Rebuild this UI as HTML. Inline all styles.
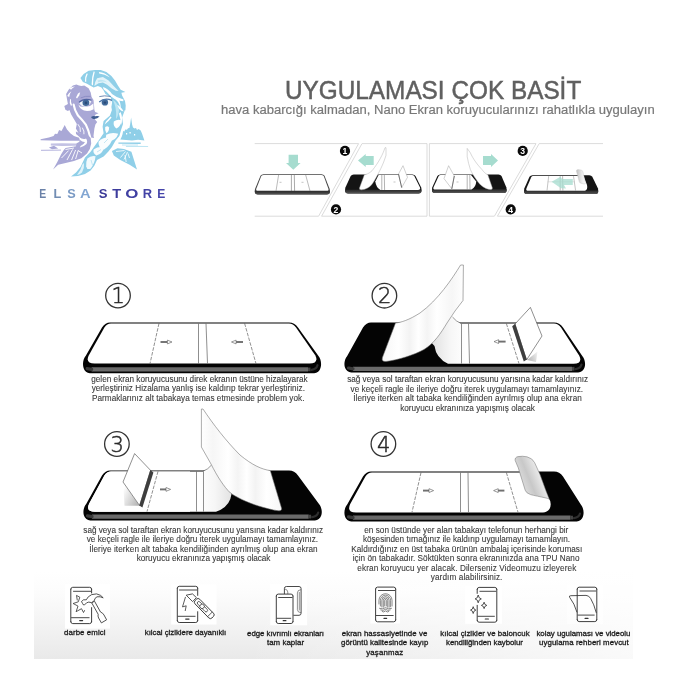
<!DOCTYPE html>
<html lang="tr">
<head>
<meta charset="utf-8">
<title>Uygulaması Çok Basit</title>
<style>
html,body{margin:0;padding:0;background:#fff;}
body{width:700px;height:700px;position:relative;overflow:hidden;font-family:"Liberation Sans",sans-serif;}
.abs{position:absolute;white-space:nowrap;}
#title{left:284.7px;top:71.8px;font-size:24.35px;color:#606060;line-height:34px;transform-origin:0 0;transform:scaleY(1.08);-webkit-text-stroke:0.45px #606060;}
#sub{left:220.6px;top:102px;font-size:13.05px;color:#787878;line-height:16px;-webkit-text-stroke:0.2px #787878;}
#strip{position:absolute;left:34px;top:572px;width:598.5px;height:87px;background:linear-gradient(to right,rgba(255,255,255,0) 0%,rgba(255,255,255,0) 35%,rgba(255,255,255,0.75) 100%),linear-gradient(to bottom,#ffffff 0%,#fcfcfc 25%,#f4f4f4 58%,#e9e9e9 100%);}
svg{position:absolute;left:0;top:0;font-family:"Liberation Sans",sans-serif;will-change:transform;}
#title,#sub{will-change:transform;}
.cap{font-size:8.2px;fill:#3a3a3a;stroke:#3a3a3a;stroke-width:0.1px;}
.feat{font-size:7.85px;fill:#1a1a1a;stroke:#1a1a1a;stroke-width:0.3px;}
</style>
</head>
<body>
<div id="strip"></div>
<svg id="art" width="700" height="700" viewBox="0 0 700 700">
<g id="step1">
<path d="M110,322.4 L289,322.4 Q294.5,322.4 298,327.4 L318.3,355.8 C321.5,359.8 322.0,365.8 319.5,370.2 C318.0,372.7 315.0,373.2 312.0,373.2 L92.1,373.2 C89.1,373.2 86.1,372.7 84.6,370.2 C82.1,365.8 82.6,359.8 85.8,355.8 L102,327.4 Q105.5,322.4 110,322.4 Z" fill="#040404"/>
<path d="M111,323.4 L289,323.4 Q293,323.4 296,327.4 L315.4,355.5 Q319.0,363.6 309.5,363.6 L94.6,363.6 Q85.1,363.6 88.69999999999999,355.5 L104.4,327.4 Q107,323.4 111,323.4 Z" fill="#fff"/>
<path d="M91.6,369.4 L308.0,369.4" stroke="#6a6a6a" stroke-width="4.3" stroke-linecap="butt" fill="none"/>
<path d="M91.6,369.4 L87.1,368.59999999999997" stroke="#3a3a3a" stroke-width="3.2" stroke-linecap="round" fill="none"/>
<path d="M308.0,369.4 L310.5,369.3" stroke="#444" stroke-width="3.8" fill="none"/>
<path d="M311.5,369.8 Q316.5,369.2 317.5,365.2" stroke="#2e2e2e" stroke-width="2.2" fill="none" stroke-linecap="round"/>
<path d="M198.5,323.4 L198.5,363.6 M206,323.4 L207.5,363.6" stroke="#6a6a6a" stroke-width="0.75" fill="none"/>
<path d="M159,323.4 L150,363.6 M244.6,323.4 L256,363.6" stroke="#555" stroke-width="0.65" stroke-dasharray="3.6 1.3" fill="none"/>
<rect x="160.5" y="341.05" width="7.30" height="1.9" fill="#707070"/><path d="M167.4,340.1 L172,342 L167.4,343.9 Z" fill="#fff" stroke="#555" stroke-width="0.6" stroke-linejoin="round"/>
<rect x="235.70" y="341.05" width="7.30" height="1.9" fill="#707070"/><path d="M236.1,340.1 L231.5,342 L236.1,343.9 Z" fill="#fff" stroke="#555" stroke-width="0.6" stroke-linejoin="round"/>
<circle cx="118" cy="295.6" r="12.3" fill="none" stroke="#333" stroke-width="1.3"/><text x="118.3" y="303.3" font-family="DejaVu Sans, sans-serif" font-weight="200" font-size="21" text-anchor="middle" fill="#2a2a2a" stroke="#2a2a2a" stroke-width="0.5">1</text>
</g>
<defs><linearGradient id="gf2" gradientUnits="userSpaceOnUse" x1="384" y1="0" x2="464" y2="0"><stop offset="0" stop-color="#f7f7f7"/><stop offset="0.18" stop-color="#ffffff"/><stop offset="0.32" stop-color="#f3f3f3"/><stop offset="0.43" stop-color="#ffffff"/><stop offset="0.54" stop-color="#f4f4f4"/><stop offset="0.66" stop-color="#ffffff"/><stop offset="0.85" stop-color="#f6f6f6"/><stop offset="1" stop-color="#ffffff"/></linearGradient><linearGradient id="gc2" gradientUnits="userSpaceOnUse" x1="434" y1="0" x2="466" y2="0"><stop offset="0" stop-color="#e3e3e3"/><stop offset="0.5" stop-color="#f6f6f6"/><stop offset="1" stop-color="#ffffff"/></linearGradient><linearGradient id="gf3" gradientUnits="userSpaceOnUse" x1="281" y1="0" x2="201" y2="0"><stop offset="0" stop-color="#f7f7f7"/><stop offset="0.18" stop-color="#ffffff"/><stop offset="0.32" stop-color="#f3f3f3"/><stop offset="0.43" stop-color="#ffffff"/><stop offset="0.54" stop-color="#f4f4f4"/><stop offset="0.66" stop-color="#ffffff"/><stop offset="0.85" stop-color="#f6f6f6"/><stop offset="1" stop-color="#ffffff"/></linearGradient><linearGradient id="gc3" gradientUnits="userSpaceOnUse" x1="231" y1="0" x2="199" y2="0"><stop offset="0" stop-color="#e3e3e3"/><stop offset="0.5" stop-color="#f6f6f6"/><stop offset="1" stop-color="#ffffff"/></linearGradient><linearGradient id="gcurl" gradientUnits="userSpaceOnUse" x1="518" y1="482" x2="545" y2="471"><stop offset="0" stop-color="#e2e2e2"/><stop offset="0.4" stop-color="#c8c8c8"/><stop offset="0.75" stop-color="#e6e6e6"/><stop offset="1" stop-color="#fbfbfb"/></linearGradient><linearGradient id="gsh" gradientUnits="userSpaceOnUse" x1="140" y1="500" x2="122" y2="492"><stop offset="0" stop-color="#b5b5b5"/><stop offset="1" stop-color="#ffffff"/></linearGradient><linearGradient id="gsh2" gradientUnits="userSpaceOnUse" x1="527" y1="358" x2="540" y2="352"><stop offset="0" stop-color="#b5b5b5"/><stop offset="1" stop-color="#ffffff"/></linearGradient></defs>
<g id="step2">
<path d="M371,322.6 L554,322.6 Q559.5,322.6 563,327.6 L582.3,356 C585.5,360 586.0,366 583.5,369.6 C582.0,372.1 579.0,372.6 576.0,372.6 L353.5,372.6 C350.5,372.6 347.5,372.1 346,369.6 C343.5,366 344,360 347.2,356 L363,327.6 Q366.5,322.6 371,322.6 Z" fill="#040404"/>
<path d="M353,368.8 L572.0,368.8" stroke="#6a6a6a" stroke-width="4.3" stroke-linecap="butt" fill="none"/>
<path d="M353,368.8 L348.5,368.0" stroke="#3a3a3a" stroke-width="3.2" stroke-linecap="round" fill="none"/>
<path d="M572.0,368.8 L574.5,368.70000000000005" stroke="#444" stroke-width="3.8" fill="none"/>
<path d="M575.5,369.20000000000005 Q580.5,368.6 581.5,364.6" stroke="#2e2e2e" stroke-width="2.2" fill="none" stroke-linecap="round"/>
<path d="M452.5,317 Q456,321.5 461,323.6 L554,323.6 Q558,323.6 561,327.6 L579.3,355.7 Q583,363.8 573.5,363.8 L448,363.8 Q436,358 434.5,346 L429,340 L446,315 Z" fill="url(#gc2)"/>
<path d="M452.5,317 Q456,321.5 461,323.4" stroke="#555" stroke-width="0.6" fill="none"/>
<path d="M461.5,323.6 L461.5,363.6 M468.5,323.6 L469.5,363.6" stroke="#6a6a6a" stroke-width="0.75" fill="none"/>
<path d="M506.4,323.6 L519,363.6" stroke="#555" stroke-width="0.65" stroke-dasharray="3.6 1.3" fill="none"/>
<rect x="498.20" y="340.65000000000003" width="7.40" height="1.9" fill="#707070"/><path d="M498.6,339.70000000000005 L494,341.6 L498.6,343.5 Z" fill="#fff" stroke="#555" stroke-width="0.6" stroke-linejoin="round"/>
<path d="M527,360 L537.5,351.5 L536,362 Z" fill="url(#gsh2)"/>
<path d="M515,324 L530.4,307.4 L542,336 L526.5,360 Z" fill="#fff" stroke="#444" stroke-width="0.6" stroke-linejoin="round"/>
<path d="M512.2,326.2 L515.2,323.8 L526.8,359.6 L523.8,361.6 Z" fill="#3e3e3e"/>
<path d="M460.6,265 C452,279 438,300 420,313 C409,320 401,322.5 395.5,323 L382.4,357.6 Q381.2,361.8 386,361.5 C398,360 414,355 424,349.5 C434,343.5 441,333 447,323 L455,311 L463,300.5 L463.4,265 Z" fill="url(#gf2)" stroke="#666" stroke-width="0.55" stroke-linejoin="round"/>
<circle cx="384.4" cy="295.7" r="12.3" fill="none" stroke="#333" stroke-width="1.3"/><text x="384.7" y="303.4" font-family="DejaVu Sans, sans-serif" font-weight="200" font-size="21" text-anchor="middle" fill="#2a2a2a" stroke="#2a2a2a" stroke-width="0.5">2</text>
</g>
<g id="step3">
<path d="M110,470.4 L289,470.4 Q294.5,470.4 298,475.4 L319.0,504 C322.2,508 322.7,514 320.2,517.5 C318.7,520.0 315.7,520.5 312.7,520.5 L92.5,520.5 C89.5,520.5 86.5,520.0 85,517.5 C82.5,514 83,508 86.2,504 L102,475.4 Q105.5,470.4 110,470.4 Z" fill="#040404"/>
<path d="M92,516.7 L308.7,516.7" stroke="#6a6a6a" stroke-width="4.3" stroke-linecap="butt" fill="none"/>
<path d="M92,516.7 L87.5,515.9" stroke="#3a3a3a" stroke-width="3.2" stroke-linecap="round" fill="none"/>
<path d="M308.7,516.7 L311.2,516.6" stroke="#444" stroke-width="3.8" fill="none"/>
<path d="M312.2,517.1 Q317.2,516.5 318.2,512.5" stroke="#2e2e2e" stroke-width="2.2" fill="none" stroke-linecap="round"/>
<path d="M111,471.4 L203,471.4 Q208,469.5 211.5,465 L231.5,494 Q230,507 216,511.8 L95,511.8 Q85.5,511.8 89.1,503.7 L104.4,475.4 Q107,471.4 111,471.4 Z" fill="url(#gc3)"/>
<path d="M111,471.4 L190,471.4 L190,511.8 L95,511.8 Q85.5,511.8 89.1,503.7 L104.4,475.4 Q107,471.4 111,471.4 Z" fill="#fff"/>
<path d="M203,471.2 Q208,469.5 211.5,465" stroke="#555" stroke-width="0.6" fill="none"/>
<path d="M196.5,471.4 L196.5,511.6 M203.5,471.4 L203.5,511.6" stroke="#6a6a6a" stroke-width="0.75" fill="none"/>
<path d="M158,471.4 L147,511.6" stroke="#555" stroke-width="0.65" stroke-dasharray="3.6 1.3" fill="none"/>
<rect x="160" y="488.45" width="6.40" height="1.9" fill="#707070"/><path d="M166.0,487.5 L170.6,489.4 L166.0,491.29999999999995 Z" fill="#fff" stroke="#555" stroke-width="0.6" stroke-linejoin="round"/>
<path d="M123.2,483 L139.5,505.8 L124.5,505.8 Z" fill="url(#gsh)"/>
<path d="M134.6,453.6 L150.6,470.4 L139.6,505.6 L123,482 Z" fill="#fff" stroke="#444" stroke-width="0.6" stroke-linejoin="round"/>
<path d="M150.3,470.1 L153.4,472.4 L142.4,507.4 L139.3,505.4 Z" fill="#3e3e3e"/>
<path d="M201.4,409 L201.4,447 L211,464 C217,476 224,487 230.5,493 C236,497 247,502.5 258.5,506 C266,508.3 272,509.8 277,510.6 Q282.6,511.6 281.5,508 L270.3,470.6 C262,469.5 252,465 240,455 C226,441 213,424 203,409 Z" fill="url(#gf3)" stroke="#666" stroke-width="0.55" stroke-linejoin="round"/>
<circle cx="116.9" cy="444" r="12.3" fill="none" stroke="#333" stroke-width="1.3"/><text x="117.2" y="451.7" font-family="DejaVu Sans, sans-serif" font-weight="200" font-size="21" text-anchor="middle" fill="#2a2a2a" stroke="#2a2a2a" stroke-width="0.5">3</text>
</g>
<g id="step4">
<path d="M371,471.6 L554,471.6 Q559.5,471.6 563,476.6 L580.8,504.6 C584,508.6 584.5,514.6 582,518.5 C580.5,521.0 577.5,521.5 574.5,521.5 L353.5,521.5 C350.5,521.5 347.5,521.0 346,518.5 C343.5,514.6 344,508.6 347.2,504.6 L363,476.6 Q366.5,471.6 371,471.6 Z" fill="#040404"/>
<path d="M353,517.7 L570.5,517.7" stroke="#6a6a6a" stroke-width="4.3" stroke-linecap="butt" fill="none"/>
<path d="M353,517.7 L348.5,516.9" stroke="#3a3a3a" stroke-width="3.2" stroke-linecap="round" fill="none"/>
<path d="M570.5,517.7 L573,517.6" stroke="#444" stroke-width="3.8" fill="none"/>
<path d="M574,518.1 Q579,517.5 580,513.5" stroke="#2e2e2e" stroke-width="2.2" fill="none" stroke-linecap="round"/>
<path d="M372,472.6 L538,472.6 L548,497 Q552.5,503 549.5,509 Q547,512.4 543,512.4 L356,512.4 Q346.5,512.4 350.1,504.3 L365.4,476.6 Q368,472.6 372,472.6 Z" fill="#fff"/>
<path d="M460.5,472.6 L460.5,512.2 M468,472.6 L468.5,512.2" stroke="#6a6a6a" stroke-width="0.75" fill="none"/>
<path d="M421,472.6 L412,512.2 M506.4,472.6 L518,512.2" stroke="#555" stroke-width="0.65" stroke-dasharray="3.6 1.3" fill="none"/>
<rect x="423" y="489.65000000000003" width="6.40" height="1.9" fill="#707070"/><path d="M429.0,488.70000000000005 L433.6,490.6 L429.0,492.5 Z" fill="#fff" stroke="#555" stroke-width="0.6" stroke-linejoin="round"/>
<rect x="497.80" y="489.65000000000003" width="6.60" height="1.9" fill="#707070"/><path d="M498.20000000000005,488.70000000000005 L493.6,490.6 L498.20000000000005,492.5 Z" fill="#fff" stroke="#555" stroke-width="0.6" stroke-linejoin="round"/>
<path d="M515.2,460.5 Q514.6,457.4 518,456.6 Q522.5,455.8 527,456.8 Q532.5,458.2 534.6,462.6 L540,474.5 L546,491 Q548.6,497.6 549.2,499 Q548,498.4 546,498 C540,496.6 534,495.6 530.5,494.6 Q526.2,493.2 525.2,490.2 L518.3,467.9 Z" fill="url(#gcurl)" stroke="#777" stroke-width="0.55" stroke-linejoin="round"/>
<circle cx="383.4" cy="444" r="12.3" fill="none" stroke="#333" stroke-width="1.3"/><text x="383.7" y="451.7" font-family="DejaVu Sans, sans-serif" font-weight="200" font-size="21" text-anchor="middle" fill="#2a2a2a" stroke="#2a2a2a" stroke-width="0.5">4</text>
</g>
<g id="mini">
<defs><linearGradient id="gmc" gradientUnits="userSpaceOnUse" x1="576" y1="0" x2="586" y2="0"><stop offset="0" stop-color="#bdbdbd"/><stop offset="0.6" stop-color="#ececec"/><stop offset="1" stop-color="#ffffff"/></linearGradient><linearGradient id="gmb" x1="0" y1="0" x2="0" y2="1"><stop offset="0" stop-color="#2a2a2a"/><stop offset="0.5" stop-color="#3c3c3c"/><stop offset="1" stop-color="#5a5a5a"/></linearGradient></defs>
<path d="M254.7,143.6 L358.6,143.6 L318.6,216.2 L254.7,216.2" fill="none" stroke="#d2d2d2" stroke-width="0.8"/>
<path d="M321.6,216.2 L362,143.6 L427,143.6 L427,216.2 Z" fill="none" stroke="#d2d2d2" stroke-width="0.8"/>
<path d="M429.4,216.2 L429.4,143.6 L536,143.6 L494.4,216.2 Z" fill="none" stroke="#d2d2d2" stroke-width="0.8"/>
<path d="M603,143.6 L539.2,143.6 L497.4,216.2 L603,216.2" fill="none" stroke="#d2d2d2" stroke-width="0.8"/>
<path d="M263.5,174.3 L321.5,174.3 Q323.5,174.3 324.5,175.8 L329.7,188.9 Q330.8,194.4 327,194.4 L257.7,194.4 Q253.89999999999998,194.4 255.0,188.9 L260.5,175.8 Q261.5,174.3 263.5,174.3 Z" fill="#444"/>
<path d="M263.7,175.0 L321.3,175.0 Q322.8,175.0 323.7,176.10000000000002 L328.4,188.8 Q329.2,191.1 326.5,191.1 L258.2,191.1 Q255.5,191.1 256.3,188.8 L261.3,176.10000000000002 Q262.2,175.0 263.7,175.0 Z" fill="#fff"/>
<path d="M254.89999999999998,190.8 L329.8,190.8 Q330.6,194.4 327,194.4 L257.7,194.4 Q254.1,194.4 254.89999999999998,190.8 Z" fill="url(#gmb)"/>
<path d="M278.6,175 L276,191 M305.7,175 L310,191" stroke="#777" stroke-width="0.5" fill="none"/>
<path d="M291.4,175 L291.4,191 M294.3,175 L294.6,191" stroke="#555" stroke-width="0.5" fill="none"/>
<path d="M279.5,182.3 h2 M301.5,182.3 h2" stroke="#888" stroke-width="0.5"/>
<path d="M288.6,154.7 L298,154.7 L298,163 L300.6,163 L293.3,169.8 L286,163 L288.6,163 Z" fill="#a6dccf"/>
<circle cx="345" cy="150.9" r="5.1" fill="#0a0a0a"/><text x="345" y="154.0" font-size="8.6" font-weight="bold" text-anchor="middle" fill="#fff">1</text>
<circle cx="336" cy="209.4" r="5.1" fill="#0a0a0a"/><text x="336" y="212.5" font-size="8.6" font-weight="bold" text-anchor="middle" fill="#fff">2</text>
<path d="M353.7,174.4 L412.5,174.4 Q414.5,174.4 415.5,175.9 L421.3,187.8 Q422.40000000000003,193.4 418.6,193.4 L348,193.4 Q344.2,193.4 345.3,187.8 L350.7,175.9 Q351.7,174.4 353.7,174.4 Z" fill="#141414"/>
<path d="M345.2,189.70000000000002 L421.40000000000003,189.70000000000002 Q422.20000000000005,193.4 418.6,193.4 L348,193.4 Q344.4,193.4 345.2,189.70000000000002 Z" fill="url(#gmb)"/>
<path d="M378.6,175.1 L412,175.1 Q413.6,175.1 414.5,176.4 L420,187.6 Q420.8,190 418,190 L380.5,190 Q376,187.5 375.3,181.5 Z" fill="#fff"/>
<path d="M381.8,175 L381.8,190 M384.3,175 L384.6,190" stroke="#666" stroke-width="0.5" fill="none"/>
<path d="M393.5,182 h2" stroke="#888" stroke-width="0.5"/>
<path d="M398.5,174 L403,165.7 L407.5,177.3 L401.7,187.6 Z" fill="#fff" stroke="#999" stroke-width="0.45" stroke-linejoin="round"/>
<path d="M398.5,174 L401.7,187.6" stroke="#666" stroke-width="0.9"/>
<path d="M358,160.6 L365.7,153.9 L365.7,156 L373.7,156 L373.7,165 L365.7,165 L365.7,167 Z" fill="#a6dccf"/>
<path d="M385,147.7 C383,154 379,162 372,170.8 C369,173.5 366.5,174.5 364.4,174.7 L359.5,188 Q359,190 361.5,189.8 C366,189.5 369.5,187.5 372,184.3 C375,180 380.5,170 383.7,162 L386,155.4 L386,147.7 Z" fill="#fff" stroke="#aaa" stroke-width="0.45" stroke-linejoin="round"/>
<path d="M440.4,174.4 L498.5,174.4 Q500.5,174.4 501.5,175.9 L506.4,187.4 Q507.5,193 503.7,193 L434.9,193 Q431.09999999999997,193 432.2,187.4 L437.4,175.9 Q438.4,174.4 440.4,174.4 Z" fill="#141414"/>
<path d="M432.09999999999997,189.3 L506.5,189.3 Q507.3,193 503.7,193 L434.9,193 Q431.29999999999995,193 432.09999999999997,189.3 Z" fill="url(#gmb)"/>
<path d="M440.6,175.1 L471,175.1 L476.2,181.5 Q476,187 471.5,189.6 L435.5,189.6 Q432.7,189.6 433.5,187.2 L438.5,176.4 Q439.3,175.1 440.6,175.1 Z" fill="#fff"/>
<path d="M467.2,175 L467.2,189.6 M469.8,175 L470,189.6" stroke="#666" stroke-width="0.5" fill="none"/>
<path d="M456.5,182 h2" stroke="#888" stroke-width="0.5"/>
<path d="M448.6,165.7 L454.3,176 L451.8,188.8 L444,178.6 Z" fill="#fff" stroke="#999" stroke-width="0.45" stroke-linejoin="round"/>
<path d="M454.3,176 L451.8,188.8" stroke="#666" stroke-width="0.9"/>
<path d="M498,160.6 L491,153.9 L491,156 L483,156 L483,165 L491,165 L491,167 Z" fill="#a6dccf"/>
<path d="M467.2,148.4 L467.2,156.7 C468,161 469,165.5 470.4,169.6 C472,173 474,176.5 475.6,178.6 C477.5,181.5 479,183.5 480.7,185 C484,188 488,189.5 490.5,189.6 Q492.8,189.8 492.3,187.8 L487.8,174.7 C485.5,174 483.5,171.5 482,169.6 C479.5,167 477.5,164.5 475.6,161.9 C473.5,159 471.5,155.5 470.4,152.9 Z" fill="#fff" stroke="#aaa" stroke-width="0.45" stroke-linejoin="round"/>
<circle cx="522.7" cy="150.9" r="5.1" fill="#0a0a0a"/><text x="522.7" y="154.0" font-size="8.6" font-weight="bold" text-anchor="middle" fill="#fff">3</text>
<circle cx="510.7" cy="209.4" r="5.1" fill="#0a0a0a"/><text x="510.7" y="212.5" font-size="8.6" font-weight="bold" text-anchor="middle" fill="#fff">4</text>
<path d="M532.5,175.3 L589.3,175.3 Q591.3,175.3 592.3,176.8 L598.0,188.5 Q599.0999999999999,194.1 595.3,194.1 L527,194.1 Q523.2,194.1 524.3,188.5 L529.5,176.8 Q530.5,175.3 532.5,175.3 Z" fill="#141414"/>
<path d="M524.2,190.4 L598.0999999999999,190.4 Q598.9,194.1 595.3,194.1 L527,194.1 Q523.4,194.1 524.2,190.4 Z" fill="url(#gmb)"/>
<path d="M533,176.1 L583.5,176.1 L587,185 Q588,189.5 585,190.7 L528.3,190.7 Q525.6,190.7 526.4,188.4 L531.2,177.3 Q531.8,176.1 533,176.1 Z" fill="#fff"/>
<path d="M548.7,176.1 L547,190.6 M573.5,176.1 L575.6,190.6" stroke="#888" stroke-width="0.5" fill="none"/>
<path d="M560.2,176.1 L560.2,190.6 M562.6,176.1 L562.9,190.6" stroke="#777" stroke-width="0.5" fill="none"/>
<path d="M547.6,181.8 L575,181.8" stroke="#bbb" stroke-width="0.4" fill="none"/>
<path d="M551.6,181.8 L560.5,176.8 L562,179 L572.8,179 L572.8,185 L564,185 L566,188.5 L561,188.2 Z" fill="#a6dccf" fill-opacity="0.75"/>
<path d="M576.5,171.2 Q576.2,169.6 578,169.6 L580.6,169.9 Q582.6,170.2 583,172 L585.4,182.6 Q585.8,184.2 584.2,184 L581,183.3 Q579.6,183 579.2,181.6 Z" fill="url(#gmc)" stroke="#bbb" stroke-width="0.35"/>
</g>
<g id="icons">
<rect x="65" y="584" width="45" height="44.6" fill="#ffffff"/>
<rect x="171.2" y="584.4" width="45.3" height="40.1" fill="#ffffff"/>
<rect x="270.3" y="583.7" width="36.8" height="41.6" fill="#ffffff"/>
<rect x="370.4" y="584.8" width="29.7" height="38.7" fill="#ffffff"/>
<rect x="465.2" y="586.3" width="36.8" height="37.5" fill="#ffffff"/>
<rect x="567" y="585" width="36" height="39" fill="#ffffff" fill-opacity="0.6"/>
<path d="M70.8,589.1999999999999 Q70.8,587.3 72.7,587.3 L89.69999999999999,587.3 Q91.6,587.3 91.6,589.1999999999999 M91.6,621.7 Q91.6,623.6 89.69999999999999,623.6 L72.7,623.6 Q70.8,623.6 70.8,621.7 M70.8,589.20 L70.8,621.70 M91.6,589.20 L91.6,593.00 M91.6,607.60 L91.6,621.70" fill="none" stroke="#343434" stroke-width="0.95" stroke-linecap="round"/>
<path d="M73.1,591.3 L91.1,591.3 M71.1,617.7 L89.5,617.7" fill="none" stroke="#343434" stroke-width="0.9"/>
<path d="M79.7,620.6 L82.6,620.6" stroke="#343434" stroke-width="1.2" stroke-linecap="round"/>
<path d="M76.5,595.4 L79.8,597.2 L78.3,601.8 L73.1,603.5 L78,606.1 L76.1,611.7 L81.5,608.7 L83.5,612.5 L84.7,610.2 M76.5,595.4 L77.3,600.4" fill="none" stroke="#343434" stroke-width="0.8" stroke-linejoin="miter"/>
<path d="M91.7,602.8 L94.5,601.2 L100.5,612 Q103,613 104,615 L106.6,619.8 L101.4,622.9 L98.6,618 Q97.6,616 98.2,614.3 Z" fill="#fff" stroke="#343434" stroke-width="0.85" stroke-linejoin="round"/>
<path d="M81.5,601.5 L83.5,599.8 L86.3,599.8 Q87.5,596.5 91.7,594.6 Q97,592.8 100.6,595.4 L103.2,597.8 Q100,596.2 97,596.8 Q94.5,598 94.2,600.8 L91.5,602.6 Q88.5,601.5 86.6,602.8 L84.4,605 Q82.5,604.8 82.6,603.6 Z" fill="#fff" stroke="#343434" stroke-width="0.85" stroke-linejoin="round"/>
<path d="M177.3,588.1999999999999 Q177.3,586.3 179.20000000000002,586.3 L195.79999999999998,586.3 Q197.7,586.3 197.7,588.1999999999999 M197.7,620.6 Q197.7,622.5 195.79999999999998,622.5 L179.20000000000002,622.5 Q177.3,622.5 177.3,620.6 M177.3,588.20 L177.3,620.60 M197.7,588.20 L197.7,595.40 M197.7,611.70 L197.7,620.60" fill="none" stroke="#343434" stroke-width="0.95" stroke-linecap="round"/>
<path d="M179.1,590 L197.2,590 M177.60000000000002,616.3 L195.5,616.3" fill="none" stroke="#343434" stroke-width="0.9"/>
<path d="M185.7,619.1 L189,619.1" stroke="#343434" stroke-width="1.2" stroke-linecap="round"/>
<path d="M185.5,596.9 L182.5,606.9 L186.2,605.8 L185.2,611" fill="none" stroke="#343434" stroke-width="0.8"/>
<path d="M186.2,595.2 L192.5,593.9 L196.4,597.6 L192.6,601.6 Z" fill="#fff" stroke="#343434" stroke-width="0.85" stroke-linejoin="round"/>
<g transform="translate(203.9,608.2) rotate(45.5)"><rect x="-11.6" y="-3.3" width="24.2" height="6.6" rx="2.3" fill="#fff" stroke="#343434" stroke-width="0.9"/><path d="M8.6,-3.3 L8.6,3.3" stroke="#343434" stroke-width="0.75"/><rect x="-8.8" y="-1.5" width="13.4" height="3" rx="1.5" fill="none" stroke="#343434" stroke-width="0.75"/><circle cx="-2.6" cy="0" r="2.25" fill="#fff" stroke="#343434" stroke-width="0.75"/></g>
<path d="M284.4,594 L284.4,588.5 Q284.4,586.5 286.4,586.5 L299,586.5 Q301.1,586.5 301.1,588.6 L301.1,613.2 Q301.1,615.3 299,615.3 L293.4,615.3" fill="none" stroke="#343434" stroke-width="0.9"/>
<path d="M300.9,589.7 Q297.4,590 297.4,592.8 L297.4,609.6 Q297.4,612.4 300.9,612.7 M299.3,592 L299.3,610.4 M284.6,588.9 Q287.6,589.4 287.8,592 L287.8,594" fill="none" stroke="#343434" stroke-width="0.55"/>
<path d="M276.3,596.0 Q276.3,594.1 278.2,594.1 L291.1,594.1 Q293,594.1 293,596.0 M293,621.6 Q293,623.5 291.1,623.5 L278.2,623.5 Q276.3,623.5 276.3,621.6 M276.3,596.00 L276.3,621.60 M293,596.00 L293,621.60" fill="none" stroke="#343434" stroke-width="0.95" stroke-linecap="round"/>
<path d="M278.2,597.5 L292.5,597.5 M276.6,618.3 L291.2,618.3" fill="none" stroke="#343434" stroke-width="0.9"/>
<path d="M283.2,620.7 L285.9,620.7" stroke="#343434" stroke-width="1.2" stroke-linecap="round"/>
<path d="M375.6,589.0 Q375.6,587.1 377.5,587.1 L393.8,587.1 Q395.7,587.1 395.7,589.0 M395.7,619.9 Q395.7,621.8 393.8,621.8 L377.5,621.8 Q375.6,621.8 375.6,619.9 M375.6,589.00 L375.6,619.90 M395.7,589.00 L395.7,619.90" fill="none" stroke="#343434" stroke-width="0.95" stroke-linecap="round"/>
<path d="M378,590.5 L395.2,590.5 M375.90000000000003,615.5 L393.6,615.5" fill="none" stroke="#343434" stroke-width="0.9"/>
<path d="M384,618.4 L386.6,618.4" stroke="#343434" stroke-width="1.2" stroke-linecap="round"/>
<path d="M384.70,606.00 L384.70,600.40 A0.80,0.95 0 0 1 386.30,600.40 L386.30,606.00 M383.30,607.20 L383.30,600.40 A2.20,2.35 0 0 1 387.70,600.40 L387.70,607.20 M381.85,607.00 L381.85,600.40 A3.65,3.80 0 0 1 389.15,600.40 L389.15,607.20 M380.40,606.00 L380.40,600.40 A5.10,5.25 0 0 1 390.60,600.40 L390.60,606.80 M378.95,604.00 L378.95,600.40 A6.55,6.70 0 0 1 392.05,600.40 L392.05,606.00 M379.50,608.40 Q382.50,609.60 385.50,607.70 Q388.50,609.60 391.50,608.40 M380.70,610.00 Q383.10,611.20 385.50,609.30 Q387.90,611.20 390.30,610.00 M382.20,611.60 Q383.85,612.80 385.50,610.90 Q387.15,612.80 388.80,611.60" fill="none" stroke="#3a3a3a" stroke-width="0.6" stroke-linecap="round"/>
<path d="M477.2,589.3 Q477.2,587.4 479.09999999999997,587.4 L494.90000000000003,587.4 Q496.8,587.4 496.8,589.3 M496.8,620.3000000000001 Q496.8,622.2 494.90000000000003,622.2 L479.09999999999997,622.2 Q477.2,622.2 477.2,620.3000000000001 M477.2,589.30 L477.2,593.40 M477.2,605.30 L477.2,620.30 M496.8,589.30 L496.8,620.30" fill="none" stroke="#343434" stroke-width="0.95" stroke-linecap="round"/>
<path d="M479.5,591.3 L496.3,591.3 M477.5,616.3 L494.8,616.3" fill="none" stroke="#343434" stroke-width="0.9"/>
<path d="M485.3,619 L488.4,619" stroke="#343434" stroke-width="1.2" stroke-linecap="round"/>
<path d="M478.2,595.0 Q478.572,598.432 481.3,598.9 Q478.572,599.3679999999999 478.2,602.8 Q477.828,599.3679999999999 475.09999999999997,598.9 Q477.828,598.432 478.2,595.0 Z M484.1,602.1999999999999 Q484.42400000000004,605.016 486.8,605.4 Q484.42400000000004,605.784 484.1,608.6 Q483.776,605.784 481.40000000000003,605.4 Q483.776,605.016 484.1,602.1999999999999 Z M473.2,606.7 Q473.524,609.692 475.9,610.1 Q473.524,610.508 473.2,613.5 Q472.876,610.508 470.5,610.1 Q472.876,609.692 473.2,606.7 Z" fill="#fff" stroke="#343434" stroke-width="0.85" stroke-linejoin="miter"/>
<path d="M577.2,589.1 Q577.2,587.2 579.1,587.2 L594.9,587.2 Q596.8,587.2 596.8,589.1 M596.8,619.7 Q596.8,621.6 594.9,621.6 L579.1,621.6 Q577.2,621.6 577.2,619.7 M577.2,589.10 L577.2,619.70 M596.8,589.10 L596.8,619.70" fill="none" stroke="#343434" stroke-width="0.95" stroke-linecap="round"/>
<path d="M579.5,591 L596.3,591 M577.5,615.1 L594.6,615.1" fill="none" stroke="#343434" stroke-width="0.9"/>
<path d="M585.1,618.4 L588,618.4" stroke="#343434" stroke-width="1.2" stroke-linecap="round"/>
<path d="M576.9,612 Q574.5,603.5 569.6,597.2 Q568.8,595.7 570.8,595.7 L586,595.4 Q588.8,595.4 590.6,598.4 Q594,604 596.2,612.5" fill="none" stroke="#343434" stroke-width="0.85" stroke-linecap="round"/>
</g>
<g id="logo">
<path d="M72.9,85.4 L76.4,84.4 L79,85.6 L81.4,86.1 L84.3,85.4 L88.6,88.3 L90.7,92.6 L91.6,97 L93.5,100 L94,105 L94.4,110 L95.2,112 L98.6,113.3 L95.6,114.6 L94.6,116 L95,119.5 L97.2,122 L95.4,124.5 L94.4,128.6 L93.5,136 L94,137.9 L91,137.4 L88,135.6 L84,135 L78.6,133.2 L75.9,128.6 L76.8,123.9 L74,119.3 L71.2,114.6 L69.4,110 L67.9,111.1 L65.4,109.7 L64.3,106.1 L67.9,104 L67.1,99.7 L66.1,94 L68.6,89.7 Z" fill="#a9a8d6"/>
<path d="M73.6,104.5 Q74.5,110 78,115.6 Q82.5,120.2 86,124.9 Q88.8,130.4 90.2,137.2" fill="none" stroke="#fff" stroke-width="2.1" stroke-linecap="round"/>
<path d="M78.2,124.5 Q81,127.5 80.4,131.5 M82.5,128 Q84.6,131 84,134" fill="none" stroke="#fff" stroke-width="0.9" stroke-linecap="round"/>
<path d="M75.9,131.4 L80,133.5 L84,134.5 L88,135 L90.7,137.9 L91.2,143.4 L89.8,149 L87,153.6 L81.4,158.3 L74,161.1 L65.6,162.9 L58.2,164.8 L53.1,169.4 L57.3,162 L61,154.6 L63.8,149.9 L65.6,148.1 L70,147.2 L76,146.2 L76.2,143.6 L79,142 L81,139 L79,136.5 L76,134 Z" fill="#a9a8d6"/>
<path d="M40.6,139.2 L48.9,137.4 L53.6,136 L55,133.7 L57.3,134.1 L59.1,130 L61.5,130.9 L64.7,124.9 L67,129.5 L70.3,133.2 L74,136 L76.8,136.9 L80,138 L80,140.8 L60,140.8 L40.6,140.2 Z" fill="#a9a8d6"/>
<path d="M50.8,143.6 L62,143.3 L76,143.6 L76,145.8 L62,146 L50.8,145.6 Z" fill="#c3c2e4"/>
<path d="M48.9,147.6 L54,145.8 L58.2,148.6 L52,149.2 Z" fill="#a9a8d6"/>
<path d="M41,149.7 L61,149.4 L61,150.8 L41,151.1 Z" fill="#c3c2e4"/>
<path d="M76,97.5 L78,93.5 L80.2,92.3 L79.2,95.5 L77,98.6 Z" fill="#fff"/>
<path d="M78.4,104.6 L80.5,106.4 L84.6,107 L90,106 L93.4,103.5 L93.6,109.2 Q88.5,112 84,110.6 Q79.8,109 78.4,104.6 Z" fill="#fff"/>
<path d="M67.2,96 Q68.6,92.6 71.4,91.2 Q69.6,93.6 69.2,97 Z M69.6,88.6 Q72,86.6 75,86.6 Q72.4,87.8 71,89.8 Z" fill="#fff"/>
<path d="M70,99 Q69,103 71,106 L72,105 Q70.6,102.5 71,99.5 Z" fill="#fff"/>
<path d="M79,137 Q83,140 86,138.5 Q88,141 86.5,144 Q84,146.5 80,147.5 L80.5,146 Q84,144.5 85,142 Q83,142.5 79.5,139.5 Z" fill="#fff"/>
<path d="M65.5,149.5 L74,148 M67,160 L72.6,149.4 M71.6,160 L75.6,150 M75.6,159 L78.2,150.4 M61.5,158 L68.6,150.6 M78,150.5 L82,153" stroke="#fff" stroke-width="0.9" fill="none"/>
<path d="M79,102.8 Q84,98 91.4,100.6 Q90.4,106 84.6,106.8 Q80.8,106.2 79,102.8 Z" fill="#f1f5fb"/>
<ellipse cx="85.9" cy="102.7" rx="3.4" ry="3.3" fill="#3f6898"/>
<circle cx="85.9" cy="102.9" r="1.3" fill="#2a4a78"/>
<path d="M79,102.4 Q84,97.6 91.6,100.2" stroke="#4f63a0" stroke-width="1.2" fill="none"/>
<path d="M80.7,97.9 Q85,95.7 90.7,96.3" stroke="#8586c0" stroke-width="0.8" fill="none"/>
<path d="M80.4,77.9 L83.6,74 L88.6,70.8 L95,70.1 L100.7,70.1 L106.4,71.9 L111.4,76.1 L115,80.4 L117.9,85.4 L120.7,89.7 L125.4,91.9 L121.4,92.8 L122.1,95.4 L125,101.1 L125.7,105.4 L125.4,110.4 L124.9,110 L122.1,117.4 L123,123.9 L121.2,129.5 L119.4,136 L115.6,140.6 L111.9,147.1 L108.2,151.8 L103.6,156.4 L97,160.1 L94.3,165.7 L90.6,170.4 L85,174 L78,176 L71,176.4 L76,172.5 L80.5,167 L85,157.4 L90.6,151.8 L95.2,145.3 L99.9,138.8 L103.6,133.2 L102.6,126.7 L103.6,121.1 L110,115.6 L111.9,110 L111.4,106.9 L112.1,102.6 L110.7,97.6 L107.9,95.4 L105.4,94 L103.6,90.4 L101.4,87.6 L97.9,86.1 L93.6,87.6 L90,85.4 L86.5,83.5 L82.9,81.9 Z" fill="#8fcfe8"/>
<path d="M93.6,71.6 L92.2,77 L91.6,84.6 L93,85.4 L93.4,78 L94.8,71.8 Z" fill="#fff"/>
<path d="M94.3,86.1 L98.6,83.3 L102.9,82.6 L107.1,84.7 L111.4,88.3 L115.7,90.8 L118.6,91.1 L113.6,86.1 L108.6,80.4 L102.9,76.9 L97.1,78.3 L95.2,82 Z" fill="#e3f4fa"/>
<path d="M97.6,80.4 Q103,78.6 107.4,82.4 Q103,80.8 98,82.2 Z" fill="#bfe6f3"/>
<path d="M103,87 Q108,88.5 112,94 Q117,98 123.5,99.5 L123.2,101.2 Q116,100.5 111,96.5 Q107,91.5 103.5,89.2 Z" fill="#fff"/>
<path d="M116,104.5 Q121,106 123.6,111.5 Q119,110.5 116,104.5 Z" fill="#fff"/>
<path d="M113,100 Q118,103 119,110 Q118.5,116 116,119 Q116.5,112 115.5,107.5 Q114.5,103.5 113,100 Z" fill="#bfe6f3"/>
<path d="M86.6,73.4 Q84.4,77 85,81.6 L86.2,82 Q85.8,77.6 87.8,73.8 Z" fill="#fff"/>
<path d="M99,72 Q105,72.4 110,77.6 Q104.6,74 99.2,73.4 Z" fill="#fff"/>
<path d="M112.6,97.4 Q118.6,100 120.6,108.6 Q121.2,103 118,98.6 Q115.4,96.6 112.6,97.4 Z" fill="#fff"/>
<path d="M120.5,112 Q123,117 121.4,125 Q120.4,119 119,113.5 Z" fill="#fff"/>
<path d="M110.5,116.5 Q108,119.5 106,121.6 L104.6,124.6 Q108.4,122 111.6,117.6 Z" fill="#fff"/>
<path d="M113.8,121.5 Q117.5,118.6 121.4,120.2 Q121.6,125.5 116.5,128.6 Q113,126.5 113.8,121.5 Z" fill="#fff"/>
<path d="M105.2,127 Q107.6,125.2 109,127.4 Q109.2,131.5 106.4,133.2 Q104.6,130.5 105.2,127 Z" fill="#fff"/>
<path d="M106.2,134.8 Q112,131.6 118.2,133.8 Q116.2,140 109.5,141.4 Q105,139.2 106.2,134.8 Z" fill="#fafdfe"/>
<path d="M98.6,141.5 Q104.6,136 112.4,137.8 Q111.6,145 104,149.4 Q97.6,147.6 98.6,141.5 Z" fill="#fafdfe"/>
<path d="M93.6,149.6 Q98.6,146 104.4,147.6 Q102.6,153.6 96.4,155.6 Q92.6,153.4 93.6,149.6 Z" fill="#fafdfe"/>
<path d="M87.4,158.4 Q91,155 95.6,156.2 Q94.8,163 90.8,168.4 Q87.2,170.4 86.2,166.4 Q85.8,161.6 87.4,158.4 Z" fill="#f2fafd"/>
<path d="M84,163 Q84.6,168 82,172.5 Q79.6,174.5 77,175 Q81,170 82.4,164.5 Z" fill="#e0f3fa"/>
<path d="M104,143 L108,139 M97,152 L101,149.5 M91,160 L92.5,165" stroke="#8fcfe8" stroke-width="0.5" fill="none"/>
<path d="M99.3,102.4 Q104.4,97.8 111.8,100.6 Q110.4,105.8 104.8,106.4 Q101,105.6 99.3,102.4 Z" fill="#f1f7fb"/>
<ellipse cx="104.9" cy="102.4" rx="3.2" ry="3.1" fill="#3f6898"/>
<circle cx="104.9" cy="102.6" r="1.2" fill="#2a4a78"/>
<path d="M99.2,102 Q104.4,97.4 112,100.4" stroke="#4c76aa" stroke-width="1.2" fill="none"/>
<path d="M99.3,96.6 Q104,95.2 110.7,96.4" stroke="#4a6f9f" stroke-width="0.8" fill="none"/>
<path d="M91,116.9 Q93.5,115.6 95.2,116.3 Q97.5,115.5 99.6,116.5 Q97,119.4 93.4,118.9 Q91.6,118.2 91,116.9 Z" fill="#3f5c90"/>
<path d="M131.1,117.6 L132.1,124.6 L133,127.4 L134.5,128.4 L136,128 L137,130 L138.6,129 L140.7,130.4 L142,133.5 L144.4,140.6 L138,139.8 L132,140.4 L120.3,139.6 L121.6,137 L122.6,134 L123.1,131 L124.4,131.6 L125.2,129.4 L127,129.8 L128,128.2 L129.4,128 L130.1,124.6 Z" fill="#8fcfe8"/>
<path d="M118.4,142.4 L140.7,142.6 L140.7,143.9 L118.4,143.8 Z" fill="#8fcfe8"/>
<path d="M125.9,145.8 L148.1,146 L148.1,146.9 L125.9,147.1 Z" fill="#bfe6f3"/>
<path d="M122,144.4 L138,144.6 L138,145.4 L122,145.4 Z" fill="#bfe6f3"/>
<path d="M111.9,150.9 L117.5,148.3 L124,149 L131.4,151.8 L134,160 L137,169.4 L129.6,164.8 L120.3,160.1 L113.8,155.5 Z" fill="#8fcfe8"/>
<path d="M116,151.5 L124.5,150.5 M120.5,157.5 L125.5,151.5 M124,159.5 L127.5,152 M125,155 L126.2,162 M128,153.5 L129.5,158" stroke="#fff" stroke-width="0.8" fill="none"/>
<path d="M126,133 h1.2 v1.6 h-1.2 Z M129.5,132 h1.2 v1.6 h-1.2 Z M134,134 h1.2 v1.6 h-1.2 Z" fill="#fff"/>
</g>
<g id="brand" font-weight="bold" font-size="12.7" text-anchor="middle"><text transform="translate(42.8,197.7) scale(0.82,1)" fill="#6b82a8">E</text><text transform="translate(57.3,197.7) scale(1.0,1)" fill="#728db3">L</text><text transform="translate(71.5,197.7) scale(1.0,1)" fill="#7a9ac4">S</text><text transform="translate(85.4,197.7) scale(1.16,1)" fill="#82a6d2">A</text><text transform="translate(103.1,197.7) scale(1.03,1)" fill="#3b3a98">S</text><text transform="translate(116.7,197.7) scale(1.15,1)" fill="#3d3c9c">T</text><text transform="translate(131.7,197.7) scale(1.33,1)" fill="#4040a2">O</text><text transform="translate(147.3,197.7) scale(1.02,1)" fill="#4343a6">R</text><text transform="translate(161.2,197.7) scale(0.95,1)" fill="#4646aa">E</text></g>
<text class="cap" x="91.25" y="381.90" textLength="216.30" lengthAdjust="spacing">gelen ekran koruyucusunu direk ekranın üstüne hizalayarak</text>
<text class="cap" x="91.65" y="391.40" textLength="213.30" lengthAdjust="spacing">yerleştiriniz Hizalama yanlış ise kaldırıp tekrar yerleştiriniz.</text>
<text class="cap" x="91.95" y="400.90" textLength="212.50" lengthAdjust="spacing">Parmaklarınız alt tabakaya temas etmesinde problem yok.</text>
<text class="cap" x="347.15" y="382.20" textLength="241.00" lengthAdjust="spacing">sağ veya sol taraftan ekran koruyucusunu yarısına kadar kaldırınız</text>
<text class="cap" x="350.55" y="391.60" textLength="232.60" lengthAdjust="spacing">ve keçeli ragle ile ileriye doğru iterek uygulamayı tamamlayınız.</text>
<text class="cap" x="353.15" y="401.20" textLength="228.70" lengthAdjust="spacing">İleriye iterken alt tabaka kendiliğinden ayrılmış olup ana ekran</text>
<text class="cap" x="400.15" y="410.70" textLength="134.70" lengthAdjust="spacing">koruyucu ekranınıza yapışmış olacak</text>
<text class="cap" x="83.35" y="532.60" textLength="239.80" lengthAdjust="spacing">sağ veya sol taraftan ekran koruyucusunu yarısına kadar kaldırınız</text>
<text class="cap" x="86.65" y="542.00" textLength="231.50" lengthAdjust="spacing">ve keçeli ragle ile ileriye doğru iterek uygulamayı tamamlayınız.</text>
<text class="cap" x="89.25" y="551.50" textLength="228.40" lengthAdjust="spacing">İleriye iterken alt tabaka kendiliğinden ayrılmış olup ana ekran</text>
<text class="cap" x="136.75" y="560.90" textLength="133.70" lengthAdjust="spacing">koruyucu ekranınıza yapışmış olacak</text>
<text class="cap" x="364.25" y="532.60" textLength="204.10" lengthAdjust="spacing">en son üstünde yer alan tabakayı telefonun herhangi bir</text>
<text class="cap" x="362.95" y="542.00" textLength="207.20" lengthAdjust="spacing">köşesinden tırnağınız ile kaldırıp uygulamayı tamamlayın.</text>
<text class="cap" x="351.25" y="551.60" textLength="231.00" lengthAdjust="spacing">Kaldırdığınız en üst tabaka ürünün ambalaj içerisinde koruması</text>
<text class="cap" x="352.75" y="561.10" textLength="226.70" lengthAdjust="spacing">için ön tabakadır. Söktükten sonra ekranınızda ana TPU Nano</text>
<text class="cap" x="357.35" y="570.60" textLength="218.90" lengthAdjust="spacing">ekran koruyucu yer alacak. Dilerseniz Videomuzu izleyerek</text>
<text class="cap" x="430.75" y="580.20" textLength="71.60" lengthAdjust="spacing">yardım alabilirsiniz.</text>
<text class="feat" x="64.05" y="634.70" textLength="41.40" lengthAdjust="spacing">darbe emici</text>
<text class="feat" x="144.75" y="634.70" textLength="81.50" lengthAdjust="spacing">kılcal çiziklere dayanıklı</text>
<text class="feat" x="247.05" y="635.60" textLength="77.00" lengthAdjust="spacing">edge kıvrımlı ekranları</text>
<text class="feat" x="266.95" y="645.00" textLength="37.20" lengthAdjust="spacing">tam kaplar</text>
<text class="feat" x="341.75" y="635.90" textLength="85.50" lengthAdjust="spacing">ekran hassasiyetinde ve</text>
<text class="feat" x="341.05" y="645.30" textLength="87.20" lengthAdjust="spacing">görüntü kalitesinde kayıp</text>
<text class="feat" x="366.15" y="654.50" textLength="37.10" lengthAdjust="spacing">yaşanmaz</text>
<text class="feat" x="440.25" y="635.50" textLength="89.30" lengthAdjust="spacing">kılcal çizikler ve baloncuk</text>
<text class="feat" x="446.05" y="644.80" textLength="76.90" lengthAdjust="spacing">kendiliğinden kaybolur</text>
<text class="feat" x="536.45" y="635.80" textLength="94.00" lengthAdjust="spacing">kolay ugulaması ve videolu</text>
<text class="feat" x="539.05" y="645.10" textLength="89.70" lengthAdjust="spacing">uygulama rehberi mevcut</text>
</svg>
<div id="title" class="abs">UYGULAMASI ÇOK BASİT</div>
<div id="sub" class="abs">hava kabarcığı kalmadan, Nano Ekran koruyucularınızı rahatlıkla uygulayın</div>
</body>
</html>
